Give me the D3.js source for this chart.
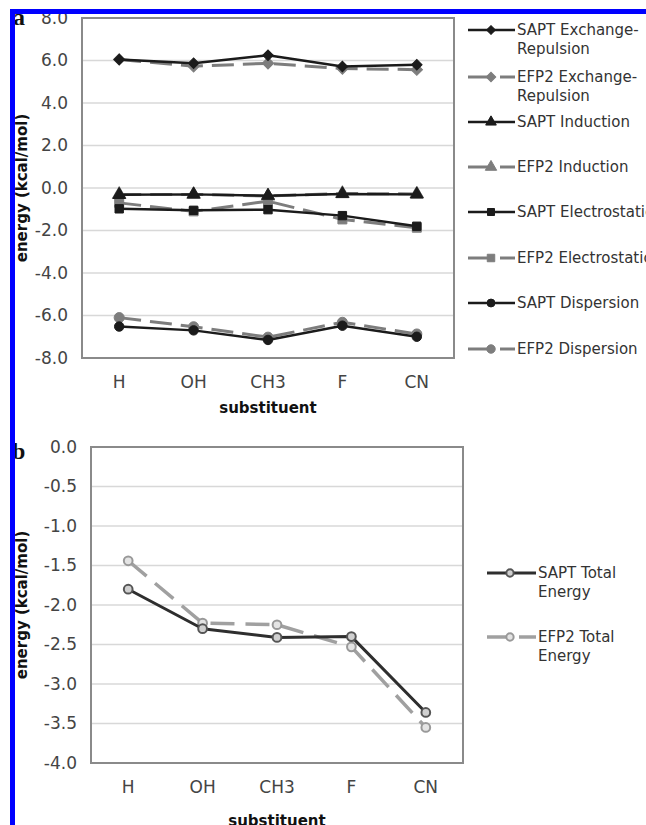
<!DOCTYPE html>
<html><head><meta charset="utf-8">
<script src="https://cdn.jsdelivr.net/npm/d3@7"></script>
<style>
html,body{margin:0;padding:0;background:#fff;overflow:hidden;}
svg{display:block;font-family:"DejaVu Sans",Verdana,sans-serif;}
</style></head>
<body><svg id="c" width="646" height="825"></svg>
<script>
const categories = ["H","OH","CH3","F","CN"];
// panel a
const saptExch = [6.05, 5.87, 6.25, 5.72, 5.80];
const efp2Exch = [6.05, 5.73, 5.87, 5.62, 5.57];
const saptInd  = [-0.32, -0.30, -0.36, -0.28, -0.30];
const efp2Ind  = [-0.30, -0.30, -0.38, -0.26, -0.28];
const saptElec = [-0.98, -1.05, -1.02, -1.30, -1.80];
const efp2Elec = [-0.70, -1.10, -0.62, -1.48, -1.87];
const saptDisp = [-6.52, -6.70, -7.15, -6.48, -7.00];
const efp2Disp = [-6.10, -6.53, -7.02, -6.32, -6.87];
const ticksA = [8,6,4,2,0,-2,-4,-6,-8];
// panel b
const saptTotal = [-1.80, -2.30, -2.41, -2.40, -3.36];
const efp2Total = [-1.44, -2.23, -2.25, -2.53, -3.55];
const ticksB = [0,-0.5,-1,-1.5,-2,-2.5,-3,-3.5,-4];

const svg = d3.select("#c");
const fmt = v => v.toFixed(1);

function symbolPath(type, size){ return d3.symbol().type(type).size(size)(); }

function panel(opt){
  const {left, top, right, bottom, domain, ticks, series, legend, letter, titleOffset} = opt;
  const x = d3.scaleBand().domain(categories).range([left,right]);
  const y = d3.scaleLinear().domain(domain).range([bottom, top]);
  const g = svg.append("g");
  g.selectAll("line.grid").data(ticks).join("line")
    .attr("x1",left).attr("x2",right)
    .attr("y1",d=>y(d)).attr("y2",d=>y(d))
    .attr("stroke","#d8d8d8").attr("stroke-width",1.5);
  g.append("rect").attr("x",left).attr("y",top).attr("width",right-left).attr("height",bottom-top)
    .attr("fill","none").attr("stroke","#8a8a8a").attr("stroke-width",2);
  const ya = d3.axisLeft(y).tickValues(ticks).tickFormat(fmt).tickSize(0).tickPadding(14);
  const yg = g.append("g").attr("transform",`translate(${left},0)`).call(ya);
  yg.select(".domain").remove();
  yg.selectAll("text").attr("font-size",17).attr("fill","#444").attr("font-family","DejaVu Sans");
  const xa = d3.axisBottom(x).tickSize(0).tickPadding(18);
  const xg = g.append("g").attr("transform",`translate(0,${bottom})`).call(xa);
  xg.select(".domain").remove();
  xg.selectAll("text").attr("font-size",17).attr("fill","#444").attr("font-family","DejaVu Sans");
  g.append("text").attr("x",(left+right)/2).attr("y",bottom+titleOffset).attr("text-anchor","middle")
    .attr("font-size",15).attr("font-weight","bold").attr("fill","#111").text("substituent");
  g.append("text").attr("transform",`translate(27,${(top+bottom)/2}) rotate(-90)`)
    .attr("text-anchor","middle").attr("font-size",15).attr("font-weight","bold").attr("fill","#111")
    .text("energy (kcal/mol)");
  g.append("text").attr("x",letter.x).attr("y",letter.y).attr("font-family","Liberation Serif")
    .attr("font-weight","bold").attr("font-size",24).attr("fill","#111").text(letter.t);
  const line = d3.line().x((d,i)=>x.bandwidth()/2 + x(categories[i])).y(d=>y(d));
  const drawOrder = series.filter(s=>s.dash).concat(series.filter(s=>!s.dash));
  drawOrder.forEach(s=>{
    g.append("path").datum(s.values).attr("d",line).attr("fill","none")
      .attr("stroke",s.color).attr("stroke-width",s.width)
      .attr("stroke-dasharray",s.dash||null).attr("stroke-linejoin","round");
    g.selectAll(null).data(s.values).join("path")
      .attr("transform",(d,i)=>`translate(${x(categories[i])+x.bandwidth()/2},${y(d)}) rotate(${s.rot||0})`)
      .attr("d",symbolPath(s.sym, s.size))
      .attr("fill",s.fill).attr("stroke",s.mstroke).attr("stroke-width",s.mwidth||1);
  });
  series.forEach((s,k)=>{
    const ly = legend.ys[k];
    const lg = g.append("g");
    if(s.dash){
      lg.append("line").attr("x1",legend.x0).attr("x2",legend.xm).attr("y1",ly).attr("y2",ly)
        .attr("stroke",s.color).attr("stroke-width",s.width);
      lg.append("line").attr("x1",legend.xm+9).attr("x2",legend.x1).attr("y1",ly).attr("y2",ly)
        .attr("stroke",s.color).attr("stroke-width",s.width);
    } else {
      lg.append("line").attr("x1",legend.x0).attr("x2",legend.x1).attr("y1",ly).attr("y2",ly)
        .attr("stroke",s.color).attr("stroke-width",s.width);
    }
    lg.append("path").attr("transform",`translate(${legend.xm},${ly}) rotate(${s.rot||0})`).attr("d",symbolPath(s.sym,s.size*0.7))
      .attr("fill",s.fill).attr("stroke",s.mstroke).attr("stroke-width",s.mwidth||1);
    const t = lg.append("text").attr("x",legend.x1+2).attr("y",ly+5).attr("font-size",15).attr("fill","#333");
    s.label.forEach((ln,j)=>{
      t.append("tspan").attr("x",legend.x1+2).attr("dy", j===0?0:19).text(ln);
    });
  });
}

const black="#1b1b1b", gray="#7d7d7d";
panel({
  left:82, top:18, right:454, bottom:358, domain:[-8,8], ticks:ticksA, titleOffset:55,
  letter:{x:13,y:25,t:"a"},
  legend:{x0:468, xm:491, x1:515, ys:[30,77,122,167,212,258,303,349]},
  series:[
    {values:saptExch, label:["SAPT Exchange-","Repulsion"], color:black, width:2.5, sym:d3.symbolSquare, rot:45, size:55, fill:black, mstroke:black},
    {values:efp2Exch, label:["EFP2 Exchange-","Repulsion"], color:gray, width:3, dash:"22,9", sym:d3.symbolSquare, rot:45, size:65, fill:gray, mstroke:gray},
    {values:saptInd, label:["SAPT Induction"], color:black, width:2.5, sym:d3.symbolTriangle, size:70, fill:black, mstroke:black},
    {values:efp2Ind, label:["EFP2 Induction"], color:gray, width:3, dash:"22,9", sym:d3.symbolTriangle, size:80, fill:gray, mstroke:gray},
    {values:saptElec, label:["SAPT Electrostatics"], color:black, width:2.5, sym:d3.symbolSquare, size:70, fill:black, mstroke:black},
    {values:efp2Elec, label:["EFP2 Electrostatics"], color:gray, width:3, dash:"22,9", sym:d3.symbolSquare, size:80, fill:gray, mstroke:gray},
    {values:saptDisp, label:["SAPT Dispersion"], color:black, width:2.5, sym:d3.symbolCircle, size:70, fill:black, mstroke:black},
    {values:efp2Disp, label:["EFP2 Dispersion"], color:gray, width:3, dash:"22,9", sym:d3.symbolCircle, size:80, fill:gray, mstroke:gray}
  ]
});
panel({
  left:91, top:447, right:463, bottom:763, domain:[-4,0], ticks:ticksB, titleOffset:63,
  letter:{x:12,y:459,t:"b"},
  legend:{x0:487, xm:510, x1:536, ys:[573,637]},
  series:[
    {values:saptTotal, label:["SAPT Total","Energy"], color:"#2e2e2e", width:3, sym:d3.symbolCircle, size:60, fill:"#d0d0d0", mstroke:"#555", mwidth:2},
    {values:efp2Total, label:["EFP2 Total","Energy"], color:"#a0a0a0", width:3.5, dash:"24,11", sym:d3.symbolCircle, size:60, fill:"#e4e4e4", mstroke:"#999", mwidth:2}
  ]
});

// blue frame
svg.append("rect").attr("x",10).attr("y",9).attr("width",640).attr("height",5).attr("fill","#0000ff");
svg.append("rect").attr("x",10).attr("y",9).attr("width",5).attr("height",820).attr("fill","#0000ff");
</script>
</body></html>
